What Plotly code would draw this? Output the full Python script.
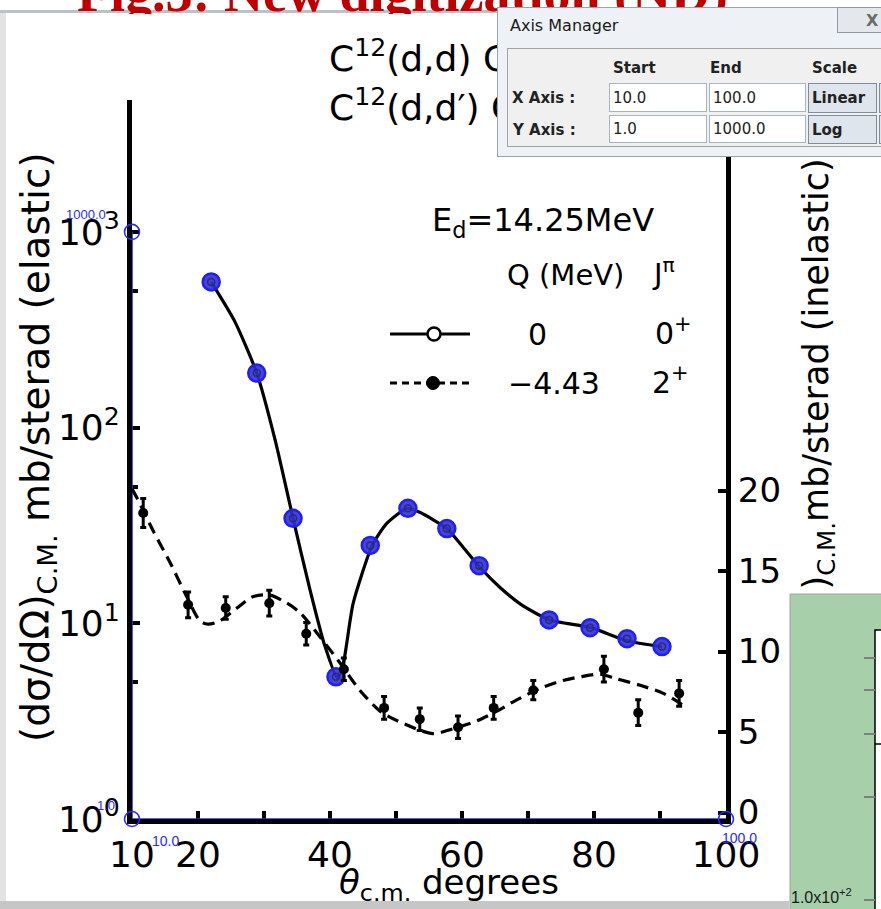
import plotly.graph_objects as go

# ---------------------------------------------------------------- data
# Elastic C12(d,d), Q = 0 MeV, J = 0+  (left axis, log, mb/sterad)
el_theta = [22.0, 28.9, 34.4, 40.9, 46.1, 51.8, 57.7, 62.6, 73.2, 79.4, 85.0, 90.3]
el_sigma = [555, 190, 34.4, 5.33, 25.0, 38.7, 30.5, 19.7, 10.4, 9.5, 8.35, 7.6]

# solid curve through the elastic points
el_fit_theta = [22.0, 25.6, 28.9, 31.7, 34.4, 37.0, 39.2, 41.1, 42.0, 43.5, 46.4, 48.6,
                51.7, 53.6, 57.7, 60.2, 62.6, 65.8, 69.2, 73.3, 79.5, 85.0, 90.3]
el_fit_sigma = [555, 347, 190, 86, 34.4, 14.7, 7.7, 5.27, 6.2, 12.6, 25.0, 32.4,
                38.7, 36.9, 30.5, 24.4, 19.5, 15.2, 12.3, 10.4, 9.5, 8.15, 7.6]

# Inelastic C12(d,d'), Q = -4.43 MeV, J = 2+  (right axis, linear, mb/sterad)
inel_theta = [11.7, 18.5, 24.2, 30.8, 36.4, 42.1, 48.2, 53.6, 59.4, 64.8, 70.8, 81.5, 86.7, 92.9]
inel_sigma = [18.6, 12.9, 12.7, 13.0, 11.1, 8.9, 6.5, 5.8, 5.3, 6.5, 7.6, 8.9, 6.2, 7.4]
inel_err = [0.9, 0.8, 0.7, 0.8, 0.7, 0.7, 0.7, 0.7, 0.7, 0.7, 0.6, 0.8, 0.8, 0.8]

# dashed curve through the inelastic points
inel_fit_theta = [10.0, 10.8, 13.2, 15.8, 18.3, 20.3, 21.5, 23.3, 25.9, 28.3, 30.9, 33.5,
                  35.5, 38.5, 41.5, 44.5, 47.6, 50.2, 55.6, 58.6, 62.3, 65.3, 68.3, 71.8,
                  75.3, 78.9, 80.9, 83.5, 87.0, 90.5, 94.1]
inel_fit_sigma = [20.1, 19.5, 17.5, 15.5, 13.4, 11.9, 11.7, 11.9, 12.7, 13.4, 13.5, 13.0,
                  12.4, 10.9, 9.3, 7.6, 6.3, 5.7, 4.9, 5.2, 5.7, 6.3, 7.0, 7.7,
                  8.2, 8.5, 8.6, 8.3, 7.9, 7.4, 6.5]

# axis ticks
x_ticks = [10, 20, 30, 40, 50, 60, 70, 80, 90, 100]
x_ticktext = ["10", "20", "", "40", "", "60", "", "80", "", "100"]
y_ticks = [1, 10, 100, 1000]
y_ticktext = ["10<sup>0</sup>", "10<sup>1</sup>", "10<sup>2</sup>", "10<sup>3</sup>"]
y_minor = [5, 50, 500]
y2_ticks = [0, 5, 10, 15, 20]
y2_ticktext = ["0", "5", "10", "15", "20"]

# digitizer calibration points (x 10..100 linear, y 1..1000 log)
cal_x = [10, 10, 100]
cal_y = [1000, 1, 1]

# dialog contents
dlg_rows = ["X Axis :", "Y Axis :"]
dlg_start = ["10.0", "1.0"]
dlg_end = ["100.0", "1000.0"]
dlg_scale = ["Linear", "Log"]

# ---------------------------------------------------------------- layout helpers
W, H = 881, 909
L, R, T, B = 132, 726, 100, 819          # plot area in pixels
SCAN = "DejaVu Sans"
UI = "DejaVu Sans"
BLUE = "#2a2aff"


def fx(p):
    return (p - L) / (R - L)


def fy(p):
    return (B - p) / (B - T)


def ann(text, x, y, size=30, xanchor="left", yanchor="middle", color="black",
        family=SCAN, **kw):
    return dict(text=text, x=fx(x), y=fy(y), xref="paper", yref="paper",
                showarrow=False, xanchor=xanchor, yanchor=yanchor,
                font=dict(size=size, color=color, family=family), **kw)


def box(x0, y0, x1, y1, fill, border=None, bw=1, text=" ", pad=0, size=15,
        align="left", color="black"):
    bw = bw if border else 0
    return dict(text=text, x=fx(x0), y=fy(y0), xref="paper", yref="paper",
                showarrow=False, xanchor="left", yanchor="top",
                width=max(1, x1 - x0 - 2 * (bw + pad)),
                height=max(1, y1 - y0 - 2 * (bw + pad)),
                bgcolor=fill, bordercolor=border or fill, borderwidth=bw,
                borderpad=pad, align=align, valign="middle",
                font=dict(size=size, color=color, family=UI))


def rect(x0, y0, x1, y1, fill, line=None, lw=1):
    return dict(type="rect", xref="paper", yref="paper",
                x0=fx(x0), x1=fx(x1), y0=fy(y0), y1=fy(y1),
                fillcolor=fill, line=dict(color=line or fill, width=lw if line else 0),
                layer="above")


def seg(x0, y0, x1, y1, color="black", width=3, dash=None):
    return dict(type="line", xref="paper", yref="paper",
                x0=fx(x0), x1=fx(x1), y0=fy(y0), y1=fy(y1),
                line=dict(color=color, width=width, dash=dash), layer="above")


def dot(cx, cy, r, fill, line="black", lw=2):
    return dict(type="circle", xref="paper", yref="paper",
                x0=fx(cx - r), x1=fx(cx + r), y0=fy(cy + r), y1=fy(cy - r),
                fillcolor=fill, line=dict(color=line, width=lw), layer="above")


# ---------------------------------------------------------------- traces
fig = go.Figure()

fig.add_trace(go.Scatter(
    x=inel_fit_theta, y=inel_fit_sigma, yaxis="y2", mode="lines",
    line=dict(color="black", width=3.2, dash="12px,7px", shape="spline", smoothing=0.8),
    hoverinfo="skip"))
fig.add_trace(go.Scatter(
    x=inel_theta, y=inel_sigma, yaxis="y2", mode="markers",
    marker=dict(size=10, color="black"),
    error_y=dict(type="data", array=inel_err, color="black", thickness=3, width=3)))

fig.add_trace(go.Scatter(
    x=el_fit_theta, y=el_fit_sigma, mode="lines",
    line=dict(color="black", width=3.2, shape="spline", smoothing=0.6),
    hoverinfo="skip"))
fig.add_trace(go.Scatter(
    x=el_theta, y=el_sigma, mode="markers",
    marker=dict(size=17, color="rgba(48,48,215,0.9)", line=dict(color="#1f1ff5", width=2.5))))
fig.add_trace(go.Scatter(
    x=el_theta, y=el_sigma, mode="markers",
    marker=dict(size=7, color="rgba(0,0,0,0)", line=dict(color="rgba(40,40,90,0.85)", width=1.5))))

# digitizer axes and calibration points
fig.add_trace(go.Scatter(
    x=cal_x, y=cal_y, mode="lines+markers", cliponaxis=False,
    line=dict(color=BLUE, width=1.6),
    marker=dict(symbol="circle-open", size=15, color=BLUE, line=dict(width=1.6))))

# ---------------------------------------------------------------- decorations
shapes = [
    # slide / window frame
    rect(0, 10, 884, 13, "#b9c1c9"),
    rect(0, 13, 6, 901, "#e3e3e3"),
    # legend symbols
    seg(390, 334, 470, 334),
    dot(434, 334, 6.5, "white", lw=2.5),
    seg(390, 383, 472, 383, dash="7px,5px"),
    dot(433, 383, 6.5, "black", lw=1),
    # green panel of the second window
    rect(790, 594, 884, 912, "#a7cfa9", line="#9aa79b"),
    rect(875, 630, 890, 912, "white", line="black", lw=1.5),
]
for ty in [658, 690, 734, 797, 900]:
    shapes.append(seg(864, ty, 875, ty, color="#7f7f7f", width=2))
shapes.append(seg(875, 744, 882, 744, color="black", width=1.5))

annotations = [
    # titles of the scanned figure
    ann("C<sup>12</sup>(d,d) C<sup>12</sup>", 327, 56, size=36),
    ann("C<sup>12</sup>(d,d′) C<sup>12</sup>", 327, 105, size=36),
    # key
    ann("E<sub>d</sub>=14.25MeV", 430, 222, size=32),
    ann("Q (MeV)", 505, 275, size=29),
    ann("J<sup>π</sup>", 650, 272, size=29),
    ann("0", 537, 334, size=30, xanchor="center"),
    ann("0<sup>+</sup>", 653, 331, size=30),
    ann("−4.43", 506, 383, size=30),
    ann("2<sup>+</sup>", 650, 380, size=30),
    # axis titles
    ann("(dσ/dΩ)<sub>C.M.</sub> mb/sterad (elastic)", 38, 447, size=39,
        xanchor="center", textangle=-90),
    ann(")<sub>C.M.</sub>mb/sterad (inelastic)", 818, 592, size=35,
        xanchor="center", yanchor="bottom", textangle=-90),
    ann("<i>θ</i><sub>c.m.</sub> degrees", 337, 884, size=34),
    # digitizer calibration labels
    ann("1000.0", 86, 214, size=13, xanchor="center", color=BLUE, family="Liberation Sans"),
    ann("1.0", 106, 805, size=13, xanchor="center", color=BLUE, family="Liberation Sans"),
    ann("10.0", 165, 841, size=14, xanchor="center", color=BLUE, family="Liberation Sans"),
    ann("100.0", 739, 838, size=14, xanchor="center", color=BLUE, family="Liberation Sans"),
    # second window tick label
    ann("1.0x10<sup>+2</sup>", 789, 908, size=16, yanchor="bottom", color="#1a1a1a",
        family="Liberation Sans"),
    # slide heading, partly hidden behind the window
    ann("<b>Fig.3: New digitization (ND)</b>", 75, 25, size=54, yanchor="bottom",
        color="#c00000", family="Liberation Serif"),
    box(6, 14, 497, 36, "white"),
    box(0, 901, 789, 912, "#c6c6c6"),
]

# Axis Manager dialog (drawn last, on top)
annotations += [
    box(497, 7, 890, 157, "#eef2f6", border="#97a3af"),
    box(837, 7, 895, 33, "#e4e8ec", border="#8e99a5"),
    ann("<b>X</b>", 872, 20, size=16, xanchor="center", color="#6b6b6b", family=UI),
    ann("Axis Manager", 508, 25, size=16, color="#1a1a1a", family=UI),
    box(507, 48, 890, 147, "#f0f0f0", border="#a2a2a2"),
    ann("<b>Start</b>", 611, 68, size=15, color="#222", family=UI),
    ann("<b>End</b>", 708, 68, size=15, color="#222", family=UI),
    ann("<b>Scale</b>", 810, 68, size=15, color="#222", family=UI),
]
row_y = [(83, 112), (115, 143)]
for i in range(2):
    y0, y1 = row_y[i]
    annotations += [
        ann("<b>%s</b>" % dlg_rows[i], 510, (y0 + y1) / 2 + 1, size=15, color="#222", family=UI),
        box(609, y0, 707, y1, "white", border="#a8b4c0", text=dlg_start[i], pad=3, size=15, color="#222"),
        box(709, y0, 806, y1, "white", border="#a8b4c0", text=dlg_end[i], pad=3, size=15, color="#222"),
        box(808, y0, 877, y1 + 1, "#dfe5ec", border="#7f8d9b", text="<b>%s</b>" % dlg_scale[i],
            pad=3, size=15, color="#222"),
        box(879, y0, 895, y1 + 1, "#dfe5ec", border="#7f8d9b"),
    ]

# ---------------------------------------------------------------- axes
axis_common = dict(showline=True, linecolor="black", linewidth=5, ticks="inside",
                   tickcolor="black", tickwidth=4, ticklen=8, showgrid=False,
                   zeroline=False, automargin=False, layer="below traces")

fig.update_layout(
    template="none",
    width=W, height=H,
    margin=dict(l=L, r=W - R, t=T, b=H - B, pad=0),
    paper_bgcolor="white", plot_bgcolor="rgba(0,0,0,0)",
    showlegend=False,
    xaxis=dict(range=[10, 100], tickvals=x_ticks, ticktext=x_ticktext,
               tickfont=dict(size=36, family=SCAN, color="black"), **axis_common),
    yaxis=dict(type="log", range=[0, (B - T) / 195.7], tickvals=y_ticks, ticktext=y_ticktext,
               tickfont=dict(size=36, family=SCAN, color="black"),
               minor=dict(tickvals=y_minor, ticks="inside", ticklen=6, tickwidth=4,
                          tickcolor="black"),
               **axis_common),
    yaxis2=dict(overlaying="y", side="right", range=[-0.40, 44.25],
                tickvals=y2_ticks, ticktext=y2_ticktext,
                tickfont=dict(size=34, family=SCAN, color="black"), **axis_common),
    shapes=shapes,
    annotations=annotations,
)

fig.write_html("out.html")
